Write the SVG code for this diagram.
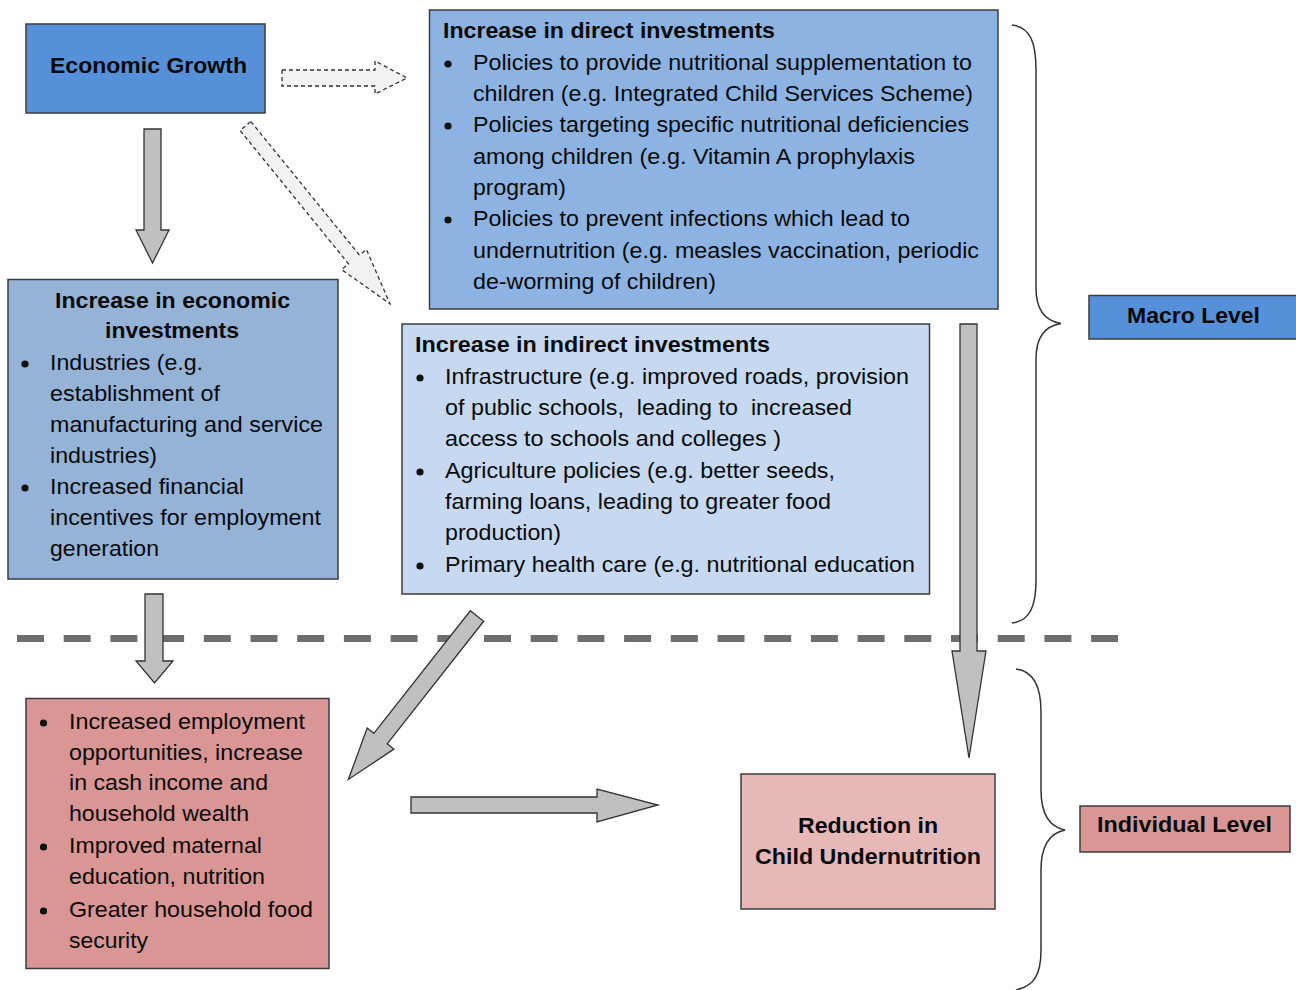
<svg xmlns="http://www.w3.org/2000/svg" width="1296" height="990" viewBox="0 0 1296 990">
<style>
text{font-family:"Liberation Sans",Arial,sans-serif;font-size:21.5px;fill:#0a0a0a}
.b{font-weight:bold}
.box{stroke:#3c3c3c;stroke-width:1.5}
.arr{fill:#c0c0c0;stroke:#333;stroke-width:1.3;stroke-linejoin:miter}
.darr{fill:#f2f2f2;stroke:#333;stroke-width:1.3;stroke-dasharray:4 3}
.brace{fill:none;stroke:#333;stroke-width:1.5}
.dot{fill:#111}
</style>
<rect width="1296" height="990" fill="#fff"/>

<g id="sep">
<line x1="17" y1="638.5" x2="1118" y2="638.5" stroke="#6e6e6e" stroke-width="7" stroke-dasharray="27 19.7"/>
</g>

<g id="economic-growth">
<rect class="box" x="26" y="24" width="239" height="89" fill="#5590d8"/>
<text class="b" x="50" y="73" textLength="197" lengthAdjust="spacingAndGlyphs">Economic Growth</text>
</g>

<g id="direct">
<rect class="box" x="429.5" y="10" width="568.5" height="299" fill="#8db3e2"/>
<text class="b" x="443" y="38" textLength="332" lengthAdjust="spacingAndGlyphs">Increase in direct investments</text>
<circle class="dot" cx="448" cy="64" r="3.6"/>
<circle class="dot" cx="448" cy="126" r="3.6"/>
<circle class="dot" cx="448" cy="220" r="3.6"/>
<text x="473" y="70" textLength="499" lengthAdjust="spacingAndGlyphs">Policies to provide nutritional supplementation to</text>
<text x="473" y="101" textLength="500" lengthAdjust="spacingAndGlyphs">children (e.g. Integrated Child Services Scheme)</text>
<text x="473" y="132" textLength="496" lengthAdjust="spacingAndGlyphs">Policies targeting specific nutritional deficiencies</text>
<text x="473" y="164" textLength="442" lengthAdjust="spacingAndGlyphs">among children (e.g. Vitamin A prophylaxis</text>
<text x="473" y="195" textLength="93" lengthAdjust="spacingAndGlyphs">program)</text>
<text x="473" y="226" textLength="437" lengthAdjust="spacingAndGlyphs">Policies to prevent infections which lead to</text>
<text x="473" y="258" textLength="506" lengthAdjust="spacingAndGlyphs">undernutrition (e.g. measles vaccination, periodic</text>
<text x="473" y="289" textLength="243" lengthAdjust="spacingAndGlyphs">de-worming of children)</text>
</g>

<g id="economic-investments">
<rect class="box" x="8" y="279.5" width="330" height="299.5" fill="#95b3d7"/>
<text class="b" x="55" y="308" textLength="235" lengthAdjust="spacingAndGlyphs">Increase in economic</text>
<text class="b" x="105" y="338" textLength="134" lengthAdjust="spacingAndGlyphs">investments</text>
<circle class="dot" cx="25" cy="364" r="3.6"/>
<circle class="dot" cx="25" cy="488" r="3.6"/>
<text x="50" y="370" textLength="153" lengthAdjust="spacingAndGlyphs">Industries (e.g.</text>
<text x="50" y="401" textLength="170" lengthAdjust="spacingAndGlyphs">establishment of</text>
<text x="50" y="432" textLength="273" lengthAdjust="spacingAndGlyphs">manufacturing and service</text>
<text x="50" y="463" textLength="107" lengthAdjust="spacingAndGlyphs">industries)</text>
<text x="50" y="494" textLength="194" lengthAdjust="spacingAndGlyphs">Increased financial</text>
<text x="50" y="525" textLength="271" lengthAdjust="spacingAndGlyphs">incentives for employment</text>
<text x="50" y="556" textLength="109" lengthAdjust="spacingAndGlyphs">generation</text>
</g>

<g id="indirect">
<rect class="box" x="402" y="324" width="527.5" height="270" fill="#c6d9f1"/>
<text class="b" x="415" y="352" textLength="355" lengthAdjust="spacingAndGlyphs">Increase in indirect investments</text>
<circle class="dot" cx="420" cy="378" r="3.6"/>
<circle class="dot" cx="420" cy="472" r="3.6"/>
<circle class="dot" cx="420" cy="566" r="3.6"/>
<text x="445" y="384" textLength="464" lengthAdjust="spacingAndGlyphs">Infrastructure (e.g. improved roads, provision</text>
<text x="445" y="415" textLength="407" lengthAdjust="spacingAndGlyphs" xml:space="preserve">of public schools,  leading to  increased</text>
<text x="445" y="446" textLength="336" lengthAdjust="spacingAndGlyphs">access to schools and colleges )</text>
<text x="445" y="478" textLength="390" lengthAdjust="spacingAndGlyphs">Agriculture policies (e.g. better seeds,</text>
<text x="445" y="509" textLength="386" lengthAdjust="spacingAndGlyphs">farming loans, leading to greater food</text>
<text x="445" y="540" textLength="116" lengthAdjust="spacingAndGlyphs">production)</text>
<text x="445" y="572" textLength="470" lengthAdjust="spacingAndGlyphs">Primary health care (e.g. nutritional education</text>
</g>

<g id="macro-level">
<rect class="box" x="1089" y="295.5" width="212" height="43.5" fill="#5590d8"/>
<text class="b" x="1127" y="323" textLength="133" lengthAdjust="spacingAndGlyphs">Macro Level</text>
</g>

<g id="household">
<rect class="box" x="26" y="698.5" width="303" height="270" fill="#d99694"/>
<circle class="dot" cx="43.5" cy="723" r="3.6"/>
<circle class="dot" cx="43.5" cy="847" r="3.6"/>
<circle class="dot" cx="43.5" cy="911" r="3.6"/>
<text x="69" y="729" textLength="236" lengthAdjust="spacingAndGlyphs">Increased employment</text>
<text x="69" y="760" textLength="234" lengthAdjust="spacingAndGlyphs">opportunities, increase</text>
<text x="69" y="790" textLength="199" lengthAdjust="spacingAndGlyphs">in cash income and</text>
<text x="69" y="821" textLength="180" lengthAdjust="spacingAndGlyphs">household wealth</text>
<text x="69" y="853" textLength="193" lengthAdjust="spacingAndGlyphs">Improved maternal</text>
<text x="69" y="884" textLength="196" lengthAdjust="spacingAndGlyphs">education, nutrition</text>
<text x="69" y="917" textLength="244" lengthAdjust="spacingAndGlyphs">Greater household food</text>
<text x="69" y="948" textLength="79" lengthAdjust="spacingAndGlyphs">security</text>
</g>

<g id="reduction">
<rect class="box" x="741" y="774" width="254" height="135" fill="#e6b9b8"/>
<text class="b" x="798" y="833" textLength="140" lengthAdjust="spacingAndGlyphs">Reduction in</text>
<text class="b" x="755" y="864" textLength="226" lengthAdjust="spacingAndGlyphs">Child Undernutrition</text>
</g>

<g id="individual-level">
<rect class="box" x="1080" y="806" width="210" height="46" fill="#d99694"/>
<text class="b" x="1097" y="832" textLength="175" lengthAdjust="spacingAndGlyphs">Individual Level</text>
</g>

<g id="braces">
<path class="brace" d="M1012,25 C1030,27 1036,42 1036,70 L1036,288 C1036,310 1045,321 1061,323.5 C1045,326 1036,337 1036,359 L1036,580 C1036,606 1030,621 1012,623"/>
<path class="brace" d="M1016,669 C1033,671 1041,685 1041,712 L1041,790 C1041,815 1050,827 1065,830 C1050,833 1041,845 1041,870 L1041,950 C1041,975 1034,986 1016,990"/>
</g>

<g id="connectors">
<polygon class="darr" points="282,70 375,70 375,61 407,78 375,94 375,86 282,86"/>
<polygon class="darr" transform="translate(245.5,126) rotate(50.9)" points="0,-7 172,-7 172,-16 229,0 172,16 172,7 0,7"/>
<polygon class="arr" points="144,129 161,129 161,230 169,230 152.5,263 136,230 144,230"/>
<polygon class="arr" points="145,594 163,594 163,661 173,661 154.5,683 136,661 145,661"/>
<polygon class="arr" points="960,324 977,324 977,651 986,651 969,758 952,651 960,651"/>
<polygon class="arr" transform="translate(477,616) rotate(128.2)" points="0,-8.5 156,-8.5 156,-17 208,0 156,17 156,8.5 0,8.5"/>
<polygon class="arr" points="411,797 597,797 597,789 658,805 597,822 597,813 411,813"/>
</g>
</svg>
